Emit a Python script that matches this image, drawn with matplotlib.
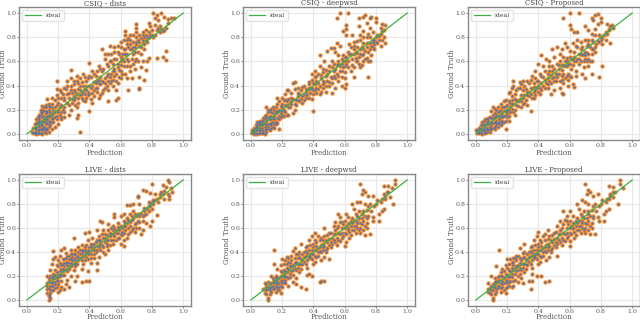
import numpy as np
import matplotlib
matplotlib.use('Agg')
import matplotlib.pyplot as plt

# (prediction, ground truth)
csiq_dists = [(.81,1),(.83,.98),(.82,.96),(.86,1),(.88,.97),(.84,.94),(.92,.96),(.94,.96),(.9,.92),(.78,.92),(.79,.89),(.7,.91),(.7,.88),(.63,.85),(.63,.82),(.65,.79),(.89,.69),(.83,.625),(.87,.64),(.89,.615),(.78,.63),(.77,.6),(.74,.6),(.73,.55),(.76,.53),(.75,.45),(.72,.47),(.67,.46),(.64,.46),(.72,.38),(.72,.375),(.65,.36),(.57,.36),(.58,.3),(.57,.28),(.52,.27),(.34,.02),(.4,.19),(.42,.26),(.28,.53),(.19,.44),(.4,.59),(.48,.7),
(.86,.87),(.85,.84),(.88,.86),(.8,.86),(.82,.82),(.78,.84),(.76,.82),(.74,.84),(.72,.82),(.7,.8),(.68,.82),(.66,.78),(.72,.76),(.7,.74),(.74,.78),(.68,.72),(.66,.7),(.64,.74),(.62,.7),(.6,.72),(.58,.68),(.56,.72),(.54,.66),(.56,.62),(.6,.64),(.64,.62),(.68,.66),(.7,.62),(.62,.6),(.58,.58),(.54,.6),(.5,.62),(.52,.56),(.56,.54),(.6,.52),(.64,.56),(.68,.58),(.66,.52),(.6,.46),(.56,.48),(.52,.5),(.48,.52),(.46,.56),(.5,.46),(.54,.44),(.58,.42),(.5,.38),(.46,.42),(.44,.48),(.42,.52),(.44,.38),(.48,.34),(.52,.36),(.46,.3),(.42,.34),(.4,.4),(.38,.44),(.36,.5),(.4,.48),(.38,.36),(.36,.4),(.34,.46),(.32,.48),(.3,.44),(.34,.36),(.38,.3),(.34,.32),(.36,.28),(.3,.36),(.28,.4),(.26,.44),(.24,.38),(.27,.34),(.31,.3),(.29,.26),(.33,.26),(.32,.22),(.32,.13),(.33,.16),(.28,.2),(.24,.28),(.21,.36),(.19,.32),(.22,.3),(.2,.26),(.24,.22),(.26,.26),(.27,.16),(.24,.14),(.24,.18),(.2,.2),(.18,.28),(.16,.3),(.14,.25),(.16,.22),(.18,.18),(.22,.12),(.2,.08),(.19,.15),(.15,.18),(.13,.29),(.12,.22),(.12,.17),(.14,.14),(.16,.1),(.18,.06),(.16,.04),(.14,.08),(.12,.11),(.11,.19),(.1,.23),(.09,.18),(.1,.14),(.08,.16),(.07,.14),(.06,.12),(.08,.1),(.1,.07),(.12,.05),(.14,.02),(.11,.02),(.09,.04),(.07,.07),(.05,.08),(.04,.05),(.06,.04),(.08,.01),(.06,0),(.04,.01),(.03,.02),(.1,0),(.12,.01),(.05,.02),(.07,.03),(.09,.09),(.11,.1),(.13,.12),(.17,.13),(.37,.33),(.43,.43),(.47,.47),(.55,.52),(.63,.66),(.73,.72),(.77,.8),(.6,.57),(.45,.44),(.3,.31),(.22,.24),(.14,.16),(.82,.9),(.75,.74),(.69,.68),
(.05,.01),(.06,.02),(.07,.01),(.08,.03),(.09,.01),(.1,.03),(.11,.04),(.12,.03),(.13,.04),(.05,.05),(.06,.06),(.07,.09),(.08,.06),(.09,.07),(.1,.05),(.11,.06),(.12,.08),(.13,.09),(.14,.06),(.15,.07),(.06,.09),(.07,.11),(.08,.12),(.09,.11),(.1,.1),(.11,.12),(.12,.13),(.13,.15),(.14,.11),(.15,.1),(.16,.12),(.17,.1),(.08,.14),(.09,.16),(.1,.17),(.11,.15),(.12,.19),(.13,.18),(.14,.2),(.15,.15),(.16,.16),(.17,.17),(.18,.14),(.19,.12),(.09,.2),(.1,.2),(.11,.22),(.12,.24),(.14,.23),(.15,.22),(.16,.25),(.17,.2),(.18,.22),(.19,.24),(.2,.18),(.21,.16),(.22,.14),(.23,.2),(.21,.22),(.22,.18),
(.19,.37),(.2,.3),(.22,.35),(.23,.33),(.24,.3),(.25,.37),(.26,.33),(.27,.3),(.28,.36),(.29,.34),(.3,.28),(.31,.35),(.32,.33),(.33,.37),(.34,.4),(.35,.33),(.36,.35),(.37,.37),(.38,.4),(.39,.35),(.4,.33),(.41,.38),(.42,.4),(.43,.36),(.44,.42),(.45,.38),(.46,.45),(.47,.41),(.48,.44),(.49,.43),(.5,.42),(.51,.48),(.52,.44),(.53,.47),(.54,.5),(.55,.45),(.56,.52),(.57,.5),(.58,.55),(.59,.53),(.26,.4),(.28,.46),(.3,.41),(.32,.44),(.33,.42),(.35,.43),(.37,.47),(.39,.46),(.41,.47),(.43,.5),(.45,.52),(.47,.54),(.49,.54),(.51,.58),(.53,.6),(.55,.58),(.57,.62),(.59,.66),(.61,.66),(.27,.24),(.29,.29),(.31,.24),(.33,.3),(.35,.3),(.37,.27),(.39,.32),(.41,.29),(.43,.31),(.45,.35),(.47,.32),(.49,.36),(.51,.4),(.53,.42),(.55,.4),(.57,.44),(.59,.47),(.61,.5),(.63,.5),
(.6,.6),(.61,.62),(.62,.66),(.63,.7),(.64,.66),(.65,.72),(.66,.74),(.67,.7),(.68,.76),(.69,.72),(.7,.76),(.71,.78),(.72,.73),(.73,.79),(.74,.75),(.75,.8),(.76,.78),(.77,.76),(.78,.8),(.79,.82),(.8,.82),(.81,.8),(.83,.86),(.84,.88),(.85,.89),(.87,.85),(.89,.88),(.9,.95),(.67,.62),(.69,.6),(.71,.68),(.73,.66),(.75,.7),(.71,.6),(.65,.6),(.66,.56),(.62,.56),(.69,.54),(.64,.78),(.62,.78),(.6,.76),(.58,.73),(.56,.68),(.52,.66),(.5,.66),(.53,.73),(.66,.82),(.7,.84),(.74,.82),(.76,.86)]

csiq_deepwsd = [(.55,.96),(.57,1),(.62,1),(.61,.9),(.61,.87),(.59,.85),(.61,.82),(.69,.96),(.72,.97),(.73,.98),(.76,.96),(.74,.92),(.77,.97),(.8,.96),(.8,.93),(.76,.88),(.69,.89),(.72,.85),(.65,.82),(.63,.74),(.66,.76),(.84,.91),(.86,.9),(.83,.88),(.85,.86),(.86,.75),(.83,.73),(.82,.78),(.8,.8),(.78,.84),(.75,.83),(.72,.8),(.7,.78),(.74,.75),(.78,.72),(.76,.7),(.72,.7),(.68,.72),(.66,.7),(.7,.66),(.74,.63),(.76,.6),(.72,.6),(.68,.6),(.7,.55),(.66,.55),(.75,.47),(.66,.47),(.64,.52),(.62,.6),(.6,.64),(.58,.62),(.56,.65),(.54,.68),(.57,.73),(.55,.75),(.51,.71),(.53,.71),(.49,.69),(.44,.65),(.47,.6),(.52,.6),(.56,.58),(.6,.56),(.58,.52),(.54,.54),(.5,.56),(.46,.54),(.44,.56),(.41,.52),(.39,.5),(.42,.48),(.48,.48),(.52,.46),(.56,.44),(.6,.46),(.61,.41),(.58,.4),(.6,.38),(.54,.38),(.52,.34),(.5,.4),(.46,.44),(.43,.42),(.46,.38),(.48,.35),(.44,.33),(.4,.36),(.42,.38),(.37,.43),(.34,.4),(.36,.36),(.38,.34),(.39,.29),(.4,.19),(.34,.32),(.3,.38),(.28,.43),(.27,.42),(.23,.36),(.22,.33),(.26,.3),(.3,.28),(.33,.26),(.29,.24),(.25,.26),(.22,.28),(.17,.3),(.18,.27),(.2,.22),(.24,.22),(.28,.2),(.27,.17),(.24,.16),(.2,.16),(.18,.19),(.16,.22),(.14,.22),(.1,.22),(.11,.18),(.13,.18),(.15,.15),(.18,.12),(.18,.04),(.16,.08),(.14,.1),(.12,.12),(.1,.14),(.08,.13),(.06,.11),(.04,.1),(.05,.07),(.07,.08),(.09,.06),(.11,.08),(.13,.07),(.15,.05),(.1,.02),(.09,0),(.07,.03),(.05,.03),(.03,.05),(.02,.03),(.01,.03),(.02,0),(.04,0),(.06,.01),(.08,.02),(.03,.01),(.01,.01),(.07,.05),(.12,.15),(.16,.18),(.19,.2),(.23,.24),(.26,.25),(.31,.33),(.35,.34),(.37,.38),(.41,.41),(.45,.46),(.49,.5),(.53,.52),(.57,.56),(.59,.6),(.63,.66),(.67,.68),(.71,.72),(.79,.78),(.81,.82),(.84,.85),
(.01,.02),(.02,.02),(.03,.03),(.04,.03),(.05,.01),(.06,.03),(.07,.01),(.08,.01),(.09,.03),(.1,.04),(.11,.04),(.12,.03),(.13,.05),(.14,.06),(.02,.05),(.03,.07),(.04,.06),(.05,.05),(.06,.07),(.07,.07),(.08,.08),(.09,.09),(.1,.07),(.11,.06),(.12,.08),(.13,.09),(.15,.08),(.16,.1),(.17,.09),(.04,.08),(.05,.1),(.06,.09),(.07,.11),(.08,.11),(.09,.12),(.1,.11),(.11,.13),(.12,.14),(.13,.12),(.14,.13),(.15,.12),(.17,.13),(.18,.15),(.19,.14),(.09,.15),(.1,.16),(.11,.2),(.12,.2),(.13,.21),(.14,.17),(.15,.2),(.16,.17),(.17,.19),(.18,.2),(.19,.17),(.2,.19),(.21,.2),(.22,.18),(.23,.16),(.21,.15),
(.17,.25),(.19,.23),(.2,.25),(.21,.28),(.22,.24),(.23,.27),(.24,.29),(.25,.22),(.26,.27),(.27,.29),(.28,.25),(.29,.28),(.3,.31),(.31,.27),(.32,.29),(.33,.31),(.34,.28),(.35,.3),(.36,.32),(.37,.3),(.38,.37),(.39,.38),(.4,.33),(.41,.36),(.42,.34),(.43,.37),(.44,.4),(.45,.35),(.46,.41),(.47,.43),(.48,.4),(.49,.44),(.5,.43),(.51,.47),(.52,.42),(.53,.48),(.54,.46),(.55,.5),(.56,.48),(.57,.52),(.58,.47),(.59,.55),(.6,.51),(.61,.58),(.62,.55),(.2,.3),(.24,.36),(.26,.34),(.28,.37),(.3,.34),(.32,.36),(.33,.39),(.35,.37),(.37,.41),(.39,.45),(.4,.42),(.41,.47),(.42,.44),(.43,.5),(.45,.49),(.46,.51),(.48,.53),(.5,.52),(.52,.55),(.53,.58),(.55,.57),(.56,.6),(.58,.58),(.59,.65),(.6,.6),
(.61,.64),(.62,.68),(.64,.66),(.65,.62),(.66,.66),(.67,.63),(.68,.67),(.69,.64),(.7,.7),(.71,.65),(.72,.66),(.73,.69),(.74,.72),(.75,.68),(.76,.75),(.77,.73),(.78,.78),(.79,.74),(.8,.76),(.81,.75),(.82,.81),(.83,.83),(.84,.78),(.85,.8),(.65,.57),(.67,.6),(.69,.58),(.71,.57),(.73,.62),(.75,.6),(.77,.65),(.79,.7),(.64,.72),(.66,.73),(.68,.77),(.7,.82),(.72,.75),(.74,.8),(.76,.8),(.78,.76)]

csiq_proposed = [(.56,.96),(.6,1),(.66,1),(.6,.9),(.61,.87),(.63,.84),(.65,.84),(.74,.96),(.76,.98),(.78,.99),(.75,.94),(.8,.96),(.8,.93),(.78,.91),(.7,.89),(.72,.86),(.65,.78),(.62,.75),(.64,.73),(.57,.75),(.52,.72),(.49,.7),(.42,.65),(.81,.56),(.79,.47),(.74,.5),(.68,.5),(.64,.48),(.7,.46),(.63,.39),(.62,.41),(.56,.33),(.55,.34),(.35,.19),(.19,.04),(.84,.91),(.87,.9),(.88,.88),(.85,.86),(.86,.75),(.81,.74),(.83,.78),(.8,.8),(.76,.82),(.74,.78),(.72,.74),(.74,.7),(.76,.72),(.72,.66),(.7,.68),(.68,.72),(.66,.66),(.7,.62),(.74,.6),(.66,.58),(.63,.6),(.6,.64),(.58,.6),(.56,.64),(.54,.66),(.5,.64),(.47,.6),(.45,.62),(.49,.56),(.53,.54),(.57,.56),(.61,.54),(.64,.52),(.59,.5),(.55,.48),(.51,.5),(.47,.52),(.43,.56),(.4,.58),(.38,.52),(.42,.48),(.46,.46),(.5,.44),(.56,.42),(.59,.4),(.54,.38),(.5,.36),(.48,.33),(.46,.38),(.42,.42),(.39,.44),(.36,.48),(.33,.44),(.3,.44),(.28,.43),(.24,.44),(.23,.38),(.27,.38),(.31,.4),(.35,.38),(.38,.36),(.41,.33),(.37,.3),(.33,.32),(.29,.32),(.25,.33),(.21,.34),(.19,.28),(.23,.28),(.27,.27),(.31,.26),(.33,.24),(.29,.22),(.25,.2),(.25,.16),(.22,.22),(.2,.2),(.18,.22),(.16,.25),(.11,.22),(.1,.19),(.12,.17),(.14,.18),(.17,.16),(.2,.14),(.21,.11),(.17,.11),(.15,.12),(.13,.11),(.11,.13),(.09,.14),(.07,.1),(.04,.1),(.06,.12),(.08,.08),(.1,.07),(.12,.06),(.14,.09),(.09,.04),(.07,.05),(.05,.06),(.03,.05),(.02,.03),(0,.03),(.01,.01),(.03,.01),(.05,.02),(.07,.02),(.04,0),(.09,.02),(.06,.03),(.02,.01),(.13,.14),(.16,.14),(.19,.19),(.23,.25),(.26,.24),(.3,.3),(.34,.35),(.37,.39),(.4,.4),(.44,.45),(.48,.49),(.52,.5),(.55,.57),(.58,.56),(.62,.62),(.67,.7),(.71,.73),(.75,.76),(.79,.82),
(.01,.03),(.02,.02),(.03,.03),(.04,.03),(.05,.04),(.06,.01),(.07,.04),(.08,.03),(.09,.06),(.1,.04),(.11,.05),(.12,.04),(.13,.07),(.14,.06),(.15,.08),(.16,.07),(.02,.05),(.03,.07),(.04,.07),(.05,.08),(.06,.07),(.07,.08),(.08,.11),(.09,.09),(.1,.1),(.11,.09),(.12,.1),(.13,.09),(.15,.1),(.16,.11),(.17,.09),(.18,.1),(.19,.11),(.05,.11),(.07,.12),(.08,.13),(.1,.13),(.11,.16),(.12,.14),(.13,.16),(.14,.15),(.15,.15),(.16,.17),(.17,.14),(.18,.15),(.19,.16),(.2,.17),(.21,.15),(.12,.21),(.13,.2),(.14,.22),(.15,.19),(.16,.2),(.17,.22),(.18,.19),(.19,.23),(.21,.2),(.22,.18),(.23,.21),(.24,.18),
(.18,.27),(.2,.24),(.21,.27),(.22,.26),(.23,.31),(.24,.25),(.25,.29),(.26,.28),(.27,.23),(.28,.29),(.29,.27),(.3,.25),(.31,.32),(.32,.28),(.33,.35),(.34,.31),(.35,.33),(.36,.3),(.37,.35),(.38,.32),(.39,.38),(.4,.35),(.41,.38),(.42,.36),(.43,.4),(.44,.38),(.45,.42),(.46,.41),(.47,.44),(.48,.42),(.49,.46),(.5,.47),(.51,.44),(.52,.47),(.53,.5),(.54,.44),(.55,.45),(.56,.5),(.57,.46),(.58,.48),(.59,.45),(.6,.48),(.61,.47),(.22,.35),(.24,.4),(.26,.36),(.28,.38),(.29,.41),(.3,.36),(.32,.37),(.34,.42),(.35,.45),(.37,.42),(.38,.46),(.4,.44),(.41,.5),(.43,.47),(.44,.52),(.46,.5),(.47,.56),(.49,.52),(.5,.54),(.52,.58),(.53,.57),(.54,.6),(.55,.53),(.56,.57),(.57,.6),(.58,.63),(.59,.58),(.6,.58),
(.61,.62),(.62,.57),(.63,.64),(.64,.6),(.65,.62),(.66,.62),(.67,.6),(.68,.65),(.69,.6),(.7,.65),(.71,.6),(.72,.62),(.73,.6),(.74,.66),(.75,.7),(.76,.68),(.77,.74),(.78,.77),(.79,.76),(.8,.78),(.81,.79),(.82,.82),(.83,.84),(.84,.83),(.85,.87),(.86,.89),(.67,.66),(.69,.66),(.71,.67),(.73,.72),(.63,.68),(.65,.72),(.67,.76),(.7,.78),(.72,.78),(.74,.83),(.76,.87),(.6,.69),(.58,.72),(.55,.7),(.69,.55),(.72,.56)]

live_dists = [(.8,.97),(.87,.96),(.9,1),(.91,.98),(.89,.94),(.86,.9),(.92,.93),(.93,.9),(.91,.87),(.91,.84),(.88,.84),(.85,.86),(.82,.88),(.79,.89),(.74,.92),(.76,.91),(.71,.87),(.71,.86),(.66,.79),(.64,.79),(.68,.8),(.72,.8),(.75,.77),(.78,.82),(.81,.83),(.8,.76),(.78,.78),(.83,.71),(.8,.66),(.79,.62),(.76,.64),(.74,.7),(.72,.65),(.7,.7),(.68,.74),(.66,.72),(.64,.68),(.62,.72),(.6,.7),(.56,.72),(.56,.69),(.47,.66),(.48,.65),(.52,.63),(.55,.62),(.58,.64),(.62,.62),(.66,.62),(.7,.6),(.74,.58),(.73,.55),(.69,.57),(.65,.55),(.61,.57),(.57,.58),(.53,.56),(.49,.58),(.45,.58),(.4,.57),(.37,.56),(.42,.52),(.46,.5),(.5,.52),(.54,.5),(.58,.52),(.62,.5),(.6,.47),(.62,.45),(.55,.47),(.51,.45),(.47,.46),(.43,.47),(.39,.5),(.35,.46),(.3,.52),(.33,.44),(.37,.42),(.41,.44),(.45,.42),(.49,.4),(.52,.42),(.5,.38),(.46,.36),(.43,.38),(.39,.38),(.35,.39),(.31,.42),(.28,.42),(.24,.43),(.22,.42),(.17,.41),(.18,.36),(.21,.37),(.25,.39),(.29,.38),(.33,.36),(.37,.33),(.41,.35),(.45,.31),(.41,.31),(.36,.3),(.32,.33),(.28,.34),(.24,.34),(.2,.33),(.17,.34),(.16,.3),(.19,.29),(.23,.3),(.27,.28),(.31,.28),(.35,.26),(.39,.24),(.45,.25),(.3,.25),(.26,.24),(.22,.26),(.18,.25),(.15,.25),(.17,.22),(.2,.22),(.24,.21),(.28,.2),(.32,.2),(.38,.16),(.4,.16),(.35,.15),(.31,.16),(.26,.17),(.22,.16),(.18,.18),(.15,.2),(.13,.2),(.14,.16),(.17,.15),(.2,.13),(.25,.13),(.27,.11),(.24,.09),(.21,.08),(.18,.1),(.15,.12),(.13,.12),(.13,.09),(.15,.08),(.17,.08),(.2,.07),(.13,.06),(.14,.04),(.15,.02),(.14,0),(.14,.03),(.16,.14),(.19,.19),(.23,.24),(.27,.26),(.31,.31),(.35,.36),(.39,.4),(.43,.42),(.47,.48),(.51,.5),(.55,.55),(.59,.6),(.63,.64),(.67,.67),(.71,.72),(.75,.74),(.79,.8),(.83,.84),(.87,.88),
(.13,.14),(.14,.1),(.14,.18),(.15,.15),(.15,.06),(.16,.18),(.16,.12),(.16,.08),(.17,.2),(.17,.18),(.17,.12),(.18,.21),(.18,.15),(.18,.13),(.19,.17),(.19,.23),(.19,.11),(.2,.19),(.2,.16),(.2,.28),(.21,.2),(.21,.24),(.21,.31),(.22,.21),(.22,.29),(.22,.11),(.23,.21),(.23,.26),(.23,.34),(.24,.25),(.24,.28),(.24,.31),(.25,.26),(.25,.31),(.25,.35),(.26,.29),(.26,.32),(.26,.37),(.27,.31),(.27,.34),(.27,.37),(.28,.28),(.28,.31),(.28,.38),(.29,.3),(.29,.33),(.29,.36),(.3,.3),(.3,.33),(.3,.38),(.31,.35),(.31,.38),(.32,.3),(.32,.37),(.33,.33),(.33,.4),(.34,.35),(.34,.38),(.34,.42),(.35,.33),(.35,.42),(.36,.37),(.36,.41),(.37,.38),(.37,.44),(.38,.36),(.38,.4),(.38,.46),(.39,.42),(.39,.34),(.4,.4),(.4,.44),(.41,.38),(.41,.47),(.42,.42),(.42,.46),(.43,.35),(.43,.44),(.44,.4),(.44,.48),(.45,.45),(.45,.5),(.46,.44),(.46,.53),(.47,.42),(.47,.5),(.48,.46),(.48,.55),(.49,.44),(.49,.52),(.5,.48),(.5,.55),(.51,.47),(.51,.54),(.52,.5),(.52,.58),(.53,.46),(.53,.53),(.54,.55),(.54,.6),(.55,.5),(.55,.58),(.56,.53),(.56,.6),(.57,.5),(.57,.56),(.58,.56),(.58,.61),(.59,.52),(.59,.58),(.6,.55),(.6,.62),(.61,.54),(.61,.6),(.62,.56),(.62,.66),(.63,.58),(.63,.62),(.64,.52),(.64,.64),(.65,.6),(.65,.67),(.66,.57),(.66,.65),(.67,.58),(.67,.7),(.68,.6),(.68,.68),(.69,.63),(.69,.72),(.7,.64),(.71,.66),(.72,.6),(.72,.7),(.73,.72),(.74,.66),(.75,.71),(.76,.72),(.77,.76),(.78,.74),(.79,.78),(.8,.82),(.81,.8),(.82,.83),(.84,.82),(.85,.88),(.88,.91),(.9,.88)]

live_deepwsd = [(.7,.97),(.72,.92),(.73,.9),(.71,.88),(.75,.87),(.78,.87),(.85,.95),(.88,.95),(.92,1),(.92,.97),(.9,.93),(.87,.9),(.85,.88),(.89,.86),(.86,.84),(.91,.8),(.84,.74),(.85,.76),(.82,.72),(.78,.69),(.82,.66),(.78,.66),(.74,.68),(.71,.72),(.74,.75),(.76,.8),(.73,.8),(.7,.82),(.68,.82),(.65,.8),(.66,.76),(.69,.74),(.71,.68),(.68,.7),(.65,.68),(.61,.72),(.56,.72),(.57,.69),(.54,.65),(.58,.65),(.62,.63),(.66,.62),(.7,.64),(.74,.6),(.76,.55),(.73,.54),(.7,.56),(.66,.58),(.62,.58),(.58,.6),(.53,.62),(.47,.6),(.5,.56),(.54,.55),(.58,.52),(.63,.52),(.61,.48),(.57,.49),(.53,.5),(.49,.48),(.45,.52),(.41,.56),(.39,.53),(.37,.5),(.42,.48),(.46,.47),(.51,.44),(.55,.46),(.6,.45),(.48,.42),(.44,.44),(.4,.44),(.36,.45),(.32,.47),(.28,.43),(.31,.4),(.35,.41),(.39,.38),(.43,.4),(.47,.36),(.5,.34),(.45,.33),(.41,.32),(.38,.36),(.34,.36),(.3,.35),(.26,.37),(.23,.36),(.2,.34),(.24,.32),(.28,.31),(.32,.3),(.36,.27),(.4,.3),(.37,.22),(.39,.2),(.36,.21),(.47,.16),(.45,.155),(.44,.15),(.35,.09),(.31,.23),(.27,.25),(.23,.27),(.19,.29),(.15,.42),(.15,.3),(.17,.26),(.21,.25),(.25,.22),(.29,.18),(.27,.15),(.29,.13),(.32,.11),(.23,.19),(.19,.2),(.16,.2),(.13,.2),(.11,.15),(.14,.15),(.17,.16),(.21,.15),(.24,.12),(.2,.11),(.17,.11),(.14,.12),(.11,.11),(.09,.14),(.08,.09),(.1,.08),(.13,.07),(.16,.07),(.19,.06),(.12,.05),(.1,.05),(.11,.02),(.11,0),(.09,.06),(.22,.2),(.26,.28),(.3,.3),(.33,.33),(.37,.37),(.42,.42),(.46,.44),(.52,.52),(.56,.56),(.6,.6),(.64,.66),(.68,.66),(.72,.74),(.8,.8),(.83,.82),(.12,.13),(.15,.17),(.18,.14),(.2,.2),
(.09,.09),(.1,.11),(.1,.13),(.11,.09),(.12,.1),(.12,.08),(.13,.11),(.13,.14),(.14,.09),(.14,.18),(.15,.1),(.15,.14),(.16,.12),(.16,.15),(.16,.18),(.17,.09),(.17,.13),(.17,.19),(.18,.08),(.18,.11),(.18,.18),(.19,.12),(.19,.16),(.19,.24),(.2,.14),(.2,.17),(.2,.23),(.21,.19),(.21,.22),(.21,.3),(.22,.14),(.22,.17),(.22,.24),(.22,.33),(.23,.23),(.23,.3),(.24,.18),(.24,.26),(.24,.35),(.25,.19),(.25,.28),(.25,.31),(.26,.24),(.26,.33),(.27,.21),(.27,.29),(.27,.41),(.28,.27),(.28,.35),(.29,.25),(.29,.32),(.29,.38),(.3,.27),(.3,.38),(.31,.3),(.31,.36),(.32,.26),(.32,.34),(.33,.3),(.33,.38),(.34,.32),(.34,.4),(.35,.3),(.35,.37),(.35,.44),(.36,.33),(.36,.39),(.37,.35),(.37,.42),(.38,.38),(.38,.46),(.39,.34),(.39,.42),(.4,.38),(.4,.47),(.41,.37),(.41,.42),(.41,.5),(.42,.36),(.42,.45),(.43,.37),(.43,.43),(.43,.53),(.44,.41),(.44,.5),(.45,.4),(.45,.46),(.46,.42),(.46,.5),(.47,.45),(.47,.53),(.48,.4),(.48,.5),(.49,.43),(.49,.54),(.5,.46),(.5,.51),(.51,.48),(.51,.56),(.52,.47),(.53,.55),(.54,.48),(.54,.58),(.55,.52),(.55,.6),(.56,.5),(.56,.62),(.57,.55),(.57,.65),(.58,.56),(.59,.53),(.59,.63),(.6,.56),(.6,.66),(.61,.55),(.61,.62),(.62,.6),(.62,.69),(.63,.57),(.63,.64),(.64,.54),(.64,.62),(.65,.58),(.65,.64),(.66,.66),(.67,.56),(.67,.62),(.67,.72),(.68,.6),(.68,.64),(.69,.58),(.69,.68),(.7,.6),(.71,.63),(.72,.58),(.72,.66),(.73,.62),(.73,.7),(.74,.64),(.75,.7),(.75,.78),(.77,.74),(.79,.78),(.81,.83),(.84,.84),(.86,.87),(.88,.9)]

live_proposed = [(.7,.97),(.72,.92),(.73,.9),(.71,.88),(.75,.87),(.78,.88),(.85,.95),(.88,.94),(.92,1),(.92,.97),(.94,.93),(.89,.9),(.86,.88),(.88,.86),(.85,.84),(.91,.8),(.85,.76),(.83,.74),(.82,.72),(.78,.69),(.82,.66),(.79,.66),(.75,.68),(.72,.72),(.74,.75),(.76,.8),(.72,.8),(.7,.82),(.68,.83),(.65,.8),(.66,.76),(.69,.74),(.71,.68),(.68,.7),(.65,.68),(.6,.74),(.56,.74),(.58,.7),(.54,.66),(.58,.66),(.62,.64),(.66,.62),(.7,.64),(.74,.6),(.73,.55),(.76,.55),(.7,.56),(.66,.58),(.62,.6),(.58,.6),(.52,.62),(.46,.58),(.5,.56),(.54,.55),(.58,.52),(.63,.52),(.6,.49),(.57,.49),(.53,.5),(.49,.48),(.44,.55),(.4,.57),(.39,.53),(.37,.5),(.42,.48),(.46,.47),(.51,.44),(.55,.46),(.6,.45),(.48,.42),(.44,.44),(.4,.44),(.36,.45),(.31,.47),(.28,.43),(.31,.4),(.35,.41),(.39,.38),(.43,.4),(.47,.36),(.52,.37),(.45,.33),(.41,.32),(.38,.36),(.34,.36),(.3,.35),(.26,.37),(.24,.35),(.2,.34),(.24,.32),(.28,.31),(.32,.3),(.36,.27),(.4,.3),(.36,.22),(.39,.2),(.42,.2),(.47,.155),(.44,.15),(.35,.09),(.34,.16),(.36,.16),(.31,.23),(.27,.25),(.23,.27),(.19,.29),(.15,.42),(.13,.28),(.17,.26),(.21,.25),(.25,.22),(.29,.18),(.27,.15),(.3,.14),(.23,.19),(.19,.2),(.16,.2),(.1,.2),(.12,.15),(.14,.15),(.17,.16),(.21,.15),(.24,.12),(.2,.11),(.17,.11),(.14,.12),(.11,.11),(.08,.14),(.08,.09),(.1,.08),(.13,.07),(.16,.07),(.19,.06),(.12,.05),(.1,.05),(.11,.02),(.11,0),(.09,.06),(.22,.2),(.26,.28),(.3,.3),(.33,.33),(.37,.37),(.42,.42),(.46,.44),(.52,.52),(.56,.56),(.6,.6),(.64,.66),(.68,.66),(.72,.74),(.8,.8),(.83,.82),(.12,.13),(.15,.17),(.18,.14),(.2,.2),
(.08,.07),(.09,.1),(.1,.12),(.11,.08),(.11,.13),(.12,.11),(.12,.18),(.13,.09),(.13,.16),(.14,.1),(.14,.19),(.15,.12),(.15,.2),(.16,.1),(.16,.14),(.16,.23),(.17,.13),(.17,.2),(.18,.08),(.18,.18),(.18,.24),(.19,.1),(.19,.16),(.19,.22),(.2,.14),(.2,.17),(.2,.27),(.21,.12),(.21,.19),(.21,.3),(.22,.16),(.22,.24),(.22,.34),(.23,.11),(.23,.22),(.23,.31),(.24,.16),(.24,.25),(.24,.29),(.25,.17),(.25,.27),(.25,.35),(.26,.24),(.26,.33),(.27,.2),(.27,.29),(.27,.37),(.28,.22),(.28,.27),(.28,.35),(.29,.25),(.29,.33),(.3,.27),(.3,.39),(.31,.3),(.31,.36),(.32,.26),(.32,.34),(.33,.29),(.33,.38),(.34,.32),(.34,.4),(.35,.3),(.35,.37),(.35,.44),(.36,.33),(.36,.39),(.37,.35),(.37,.42),(.38,.38),(.38,.46),(.39,.34),(.39,.42),(.4,.38),(.4,.47),(.41,.37),(.41,.42),(.41,.5),(.42,.36),(.42,.45),(.43,.37),(.43,.43),(.43,.53),(.44,.41),(.44,.5),(.45,.4),(.45,.46),(.46,.42),(.46,.51),(.47,.45),(.47,.53),(.48,.4),(.48,.5),(.49,.43),(.49,.54),(.5,.46),(.5,.51),(.51,.48),(.51,.57),(.52,.47),(.53,.55),(.54,.48),(.54,.58),(.55,.52),(.55,.6),(.56,.5),(.56,.63),(.57,.55),(.57,.67),(.58,.56),(.59,.53),(.59,.63),(.6,.56),(.6,.66),(.61,.55),(.61,.62),(.62,.6),(.62,.7),(.63,.57),(.63,.64),(.64,.54),(.64,.62),(.65,.58),(.65,.64),(.66,.66),(.67,.56),(.67,.62),(.67,.72),(.68,.6),(.68,.64),(.69,.58),(.69,.68),(.7,.6),(.71,.63),(.72,.58),(.72,.66),(.73,.62),(.73,.7),(.74,.64),(.75,.7),(.75,.78),(.77,.74),(.79,.78),(.81,.83),(.84,.84),(.86,.87),(.88,.9)]

titles = ['CSIQ - dists', 'CSIQ - deepwsd', 'CSIQ - Proposed',
          'LIVE - dists', 'LIVE - deepwsd', 'LIVE - Proposed']
panels = [csiq_dists, csiq_deepwsd, csiq_proposed,
          live_dists, live_deepwsd, live_proposed]
ticks = [0.0, 0.2, 0.4, 0.6, 0.8, 1.0]
ideal = [0.0, 1.0]

plt.rcParams['font.family'] = ['DejaVu Serif']
W, H = 640.0, 321.0
lefts = [19, 243, 468]
tops = [7, 174]
heights = [133, 132]

fig = plt.figure(figsize=(6.4, 3.21), dpi=100)
for i, (pts, name) in enumerate(zip(panels, titles)):
    col = i % 3
    row = i // 3
    ax = fig.add_axes([lefts[col]/W, 1-(tops[row]+heights[row])/H, 172/W, heights[row]/H])
    pts = np.array(pts)
    ax.grid(True, color='#e8e8e8', lw=0.8)
    ax.set_axisbelow(True)
    ax.scatter(pts[:,0], pts[:,1], s=10, c='#ff8a1f', lw=0, zorder=2)
    ax.scatter(pts[:,0], pts[:,1], s=2.5, c='#4c72b0', lw=0, zorder=3)
    ax.plot(ideal, ideal, color='#3cb043', lw=0.9, label='ideal', zorder=4)
    ax.set_xlim(-0.05, 1.05)
    ax.set_ylim(-0.05, 1.05)
    ax.set_xticks(ticks)
    ax.set_yticks(ticks)
    ax.tick_params(labelsize=4.5, colors='#555555', length=1.5, width=0.5, pad=0.5)
    for s in ax.spines.values():
        s.set_color('#888888')
        s.set_linewidth(1.0)
    ax.set_xlabel('Prediction', fontsize=5, color='#555555')
    ax.set_ylabel('Ground Truth', fontsize=5, color='#555555')
    ax.xaxis.set_label_coords(0.5, -0.07 if row == 0 else -0.055)
    ax.yaxis.set_label_coords(-0.072, 0.5)
    ax.set_title(name, fontsize=5, color='#444444', pad=0.5)
    ax.legend(loc='upper left', fontsize=4.5, frameon=True, borderpad=0.4,
              handlelength=2.6, labelcolor='#444444', edgecolor='#dddddd')

fig.savefig('out.png', dpi=100)
